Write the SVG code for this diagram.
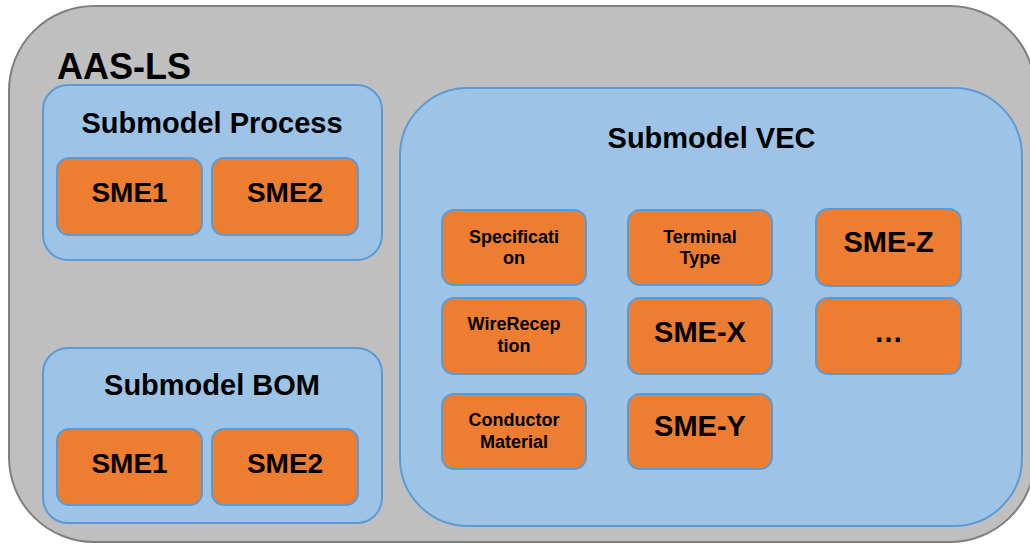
<svg xmlns="http://www.w3.org/2000/svg" width="1030" height="544" viewBox="0 0 1030 544">
  <style>
    .shell { fill: #BFBFBF; stroke: #7F7F7F; stroke-width: 2; }
    .sm { fill: #9DC3E6; stroke: #5B9BD5; stroke-width: 2; }
    .sme { fill: #ED7D31; stroke: #5B9BD5; stroke-width: 2; }
    text { font-family: "Liberation Sans", Arial, sans-serif; font-weight: bold; fill: #000; text-anchor: middle; }
    .t-main { font-size: 36px; text-anchor: start; }
    .t-sm { font-size: 29px; }
    .t-sme { font-size: 28px; }
    .t-big { font-size: 29px; }
    .t-small { font-size: 18px; }
  </style>

  <!-- Asset Administration Shell -->
  <g id="aas-ls">
    <rect class="shell" x="9" y="6" width="1026" height="536" rx="85" ry="85"/>
    <text class="t-main" x="57" y="79">AAS-LS</text>
  </g>

  <!-- Submodel Process -->
  <g id="submodel-process">
    <rect class="sm" x="43" y="85" width="339" height="175" rx="25" ry="25"/>
    <text class="t-sm" x="212" y="133">Submodel Process</text>
  </g>
  <g id="process-sme1">
    <rect class="sme" x="57" y="158" width="145" height="77" rx="12" ry="12"/>
    <text class="t-sme" x="129.5" y="202">SME1</text>
  </g>
  <g id="process-sme2">
    <rect class="sme" x="212" y="158" width="146" height="77" rx="12" ry="12"/>
    <text class="t-sme" x="285" y="202">SME2</text>
  </g>

  <!-- Submodel BOM -->
  <g id="submodel-bom">
    <rect class="sm" x="43" y="348" width="339" height="175" rx="25" ry="25"/>
    <text class="t-sm" x="212" y="395">Submodel BOM</text>
  </g>
  <g id="bom-sme1">
    <rect class="sme" x="57" y="429" width="145" height="76" rx="12" ry="12"/>
    <text class="t-sme" x="129.5" y="473">SME1</text>
  </g>
  <g id="bom-sme2">
    <rect class="sme" x="212" y="429" width="146" height="76" rx="12" ry="12"/>
    <text class="t-sme" x="285" y="473">SME2</text>
  </g>

  <!-- Submodel VEC -->
  <g id="submodel-vec">
    <rect class="sm" x="400" y="88" width="622" height="438" rx="68" ry="68"/>
    <text class="t-sm" x="711.5" y="148">Submodel VEC</text>
  </g>
  <g id="vec-specification">
    <rect class="sme" x="442" y="210" width="144" height="75" rx="12" ry="12"/>
    <text class="t-small" x="514" y="243">Specificati</text>
    <text class="t-small" x="514" y="264">on</text>
  </g>
  <g id="vec-terminal-type">
    <rect class="sme" x="628" y="210" width="144" height="75" rx="12" ry="12"/>
    <text class="t-small" x="700" y="243">Terminal</text>
    <text class="t-small" x="700" y="264">Type</text>
  </g>
  <g id="vec-sme-z">
    <rect class="sme" x="816" y="209" width="145" height="77" rx="12" ry="12"/>
    <text class="t-big" x="888.5" y="252">SME-Z</text>
  </g>
  <g id="vec-wire-reception">
    <rect class="sme" x="442" y="298" width="144" height="76" rx="12" ry="12"/>
    <text class="t-small" x="514" y="330">WireRecep</text>
    <text class="t-small" x="514" y="352">tion</text>
  </g>
  <g id="vec-sme-x">
    <rect class="sme" x="628" y="298" width="144" height="76" rx="12" ry="12"/>
    <text class="t-big" x="700" y="342">SME-X</text>
  </g>
  <g id="vec-more">
    <rect class="sme" x="816" y="298" width="145" height="76" rx="12" ry="12"/>
    <text class="t-big" x="888.5" y="342">…</text>
  </g>
  <g id="vec-conductor-material">
    <rect class="sme" x="442" y="394" width="144" height="75" rx="12" ry="12"/>
    <text class="t-small" x="514" y="426">Conductor</text>
    <text class="t-small" x="514" y="448">Material</text>
  </g>
  <g id="vec-sme-y">
    <rect class="sme" x="628" y="394" width="144" height="75" rx="12" ry="12"/>
    <text class="t-big" x="700" y="436">SME-Y</text>
  </g>

  <!-- no connectors in this diagram -->
  <g id="connectors"/>
</svg>
